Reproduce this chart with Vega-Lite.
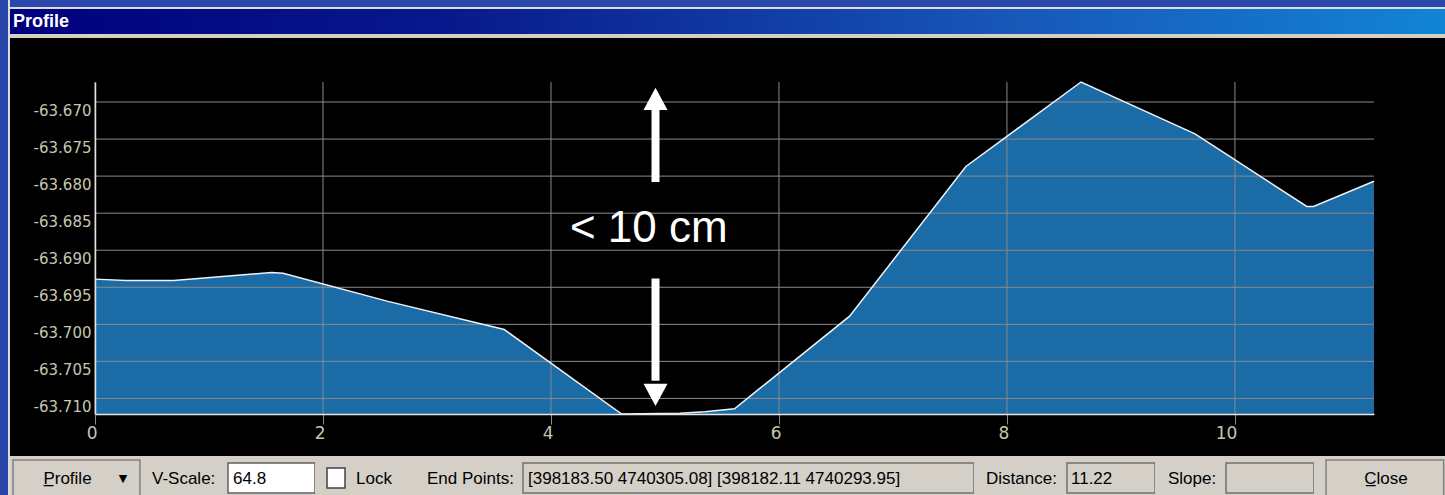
{
  "$schema": "https://vega.github.io/schema/vega-lite/v6.json",
  "padding": 0,
  "background": "#000000",
  "spacing": 0,
  "config": {
    "view": {"stroke": null},
    "text": {"font": "Liberation Sans", "fontSize": 17, "color": "#000000"},
    "locale": {"number": {"decimal": ".", "thousands": ",", "grouping": [3], "currency": ["$", ""], "minus": "-"}}
  },
  "datasets": {
    "profile": [
      {"d": 0, "z": -63.6939},
      {"d": 0.27, "z": -63.6941},
      {"d": 0.69, "z": -63.6941},
      {"d": 1.55, "z": -63.693},
      {"d": 1.65, "z": -63.6931},
      {"d": 2.57, "z": -63.6969},
      {"d": 3.59, "z": -63.7007},
      {"d": 4.62, "z": -63.7121},
      {"d": 5.13, "z": -63.712},
      {"d": 5.35, "z": -63.7118},
      {"d": 5.61, "z": -63.7114},
      {"d": 6.62, "z": -63.6989},
      {"d": 7.64, "z": -63.6787},
      {"d": 8.65, "z": -63.6673},
      {"d": 9.65, "z": -63.6743},
      {"d": 10.63, "z": -63.6841},
      {"d": 10.69, "z": -63.6841},
      {"d": 11.22, "z": -63.6807}
    ],
    "ygrid": [
      {"z": -63.67}, {"z": -63.675}, {"z": -63.68}, {"z": -63.685}, {"z": -63.69},
      {"z": -63.695}, {"z": -63.7}, {"z": -63.705}, {"z": -63.71}
    ],
    "xgrid": [{"d": 0}, {"d": 2}, {"d": 4}, {"d": 6}, {"d": 8}, {"d": 10}],
    "shafts": [
      {"d": 4.917, "z": -63.6808, "z2": -63.6708},
      {"d": 4.917, "z": -63.6938, "z2": -63.7076}
    ],
    "heads": [
      {"d": 4.917, "z": -63.66807, "dir": "up"},
      {"d": 4.917, "z": -63.71102, "dir": "down"}
    ],
    "note": [{"d": 4.858, "z": -63.6889, "label": "< 10 cm"}]
  },
  "hconcat": [
    {
      "width": 8, "height": 495, "data": {"values": [{}]},
      "mark": {"type": "rect", "color": "#2845a8", "strokeWidth": 0},
      "encoding": {
        "x": {"datum": 0, "type": "quantitative", "scale": {"domain": [0, 1]}, "axis": null},
        "x2": {"datum": 1},
        "y": {"datum": 0, "type": "quantitative", "scale": {"domain": [0, 1]}, "axis": null},
        "y2": {"datum": 1}
      }
    },
    {
      "width": 2, "height": 495, "data": {"values": [{}]},
      "mark": {"type": "rect", "color": "#dcdcdc", "strokeWidth": 0},
      "encoding": {
        "x": {"datum": 0, "type": "quantitative", "scale": {"domain": [0, 1]}, "axis": null},
        "x2": {"datum": 1},
        "y": {"datum": 0, "type": "quantitative", "scale": {"domain": [0, 1]}, "axis": null},
        "y2": {"datum": 1}
      }
    },
    {
      "spacing": 0,
      "vconcat": [
        {
          "width": 1435, "height": 7, "data": {"values": [{}]},
          "mark": {"type": "rect", "color": "#2a48ac", "strokeWidth": 0},
          "encoding": {
            "x": {"datum": 0, "type": "quantitative", "scale": {"domain": [0, 1]}, "axis": null},
            "x2": {"datum": 1},
            "y": {"datum": 0, "type": "quantitative", "scale": {"domain": [0, 1]}, "axis": null},
            "y2": {"datum": 1}
          }
        },
        {
          "width": 1435, "height": 2, "data": {"values": [{}]},
          "mark": {"type": "rect", "color": "#dcdcdc", "strokeWidth": 0},
          "encoding": {
            "x": {"datum": 0, "type": "quantitative", "scale": {"domain": [0, 1]}, "axis": null},
            "x2": {"datum": 1},
            "y": {"datum": 0, "type": "quantitative", "scale": {"domain": [0, 1]}, "axis": null},
            "y2": {"datum": 1}
          }
        },
        {
          "width": 1435, "height": 25,
          "data": {"values": [{"t": "Profile"}]},
          "layer": [
            {
              "mark": {"type": "rect", "strokeWidth": 0, "color": {"gradient": "linear", "x1": 0, "x2": 1, "y1": 0, "y2": 0, "stops": [
                {"offset": 0, "color": "#00007c"},
                {"offset": 0.3, "color": "#08188c"},
                {"offset": 0.7, "color": "#1858b8"},
                {"offset": 1, "color": "#1284d4"}
              ]}},
              "encoding": {
                "x": {"datum": 0, "type": "quantitative", "scale": {"domain": [0, 1]}, "axis": null},
                "x2": {"datum": 1},
                "y": {"datum": 0, "type": "quantitative", "scale": {"domain": [0, 1], "reverse": true}, "axis": null},
                "y2": {"datum": 1}
              }
            },
            {
              "mark": {"type": "text", "align": "left", "baseline": "alphabetic", "dx": 3, "font": "Liberation Sans", "fontSize": 18, "fontWeight": "bold", "color": "#ffffff"},
              "encoding": {
                "text": {"field": "t"},
                "x": {"datum": 0, "type": "quantitative", "scale": {"domain": [0, 1]}, "axis": null},
                "y": {"datum": 0.708, "type": "quantitative", "scale": {"domain": [0, 1], "reverse": true}, "axis": null}
              }
            }
          ]
        },
        {
          "width": 1435, "height": 4, "data": {"values": [{}]},
          "mark": {"type": "rect", "color": "#d4d0c8", "strokeWidth": 0},
          "encoding": {
            "x": {"datum": 0, "type": "quantitative", "scale": {"domain": [0, 1]}, "axis": null},
            "x2": {"datum": 1},
            "y": {"datum": 0, "type": "quantitative", "scale": {"domain": [0, 1]}, "axis": null},
            "y2": {"datum": 1}
          }
        },
        {
          "width": 1435, "height": 41, "data": {"values": [{}]},
          "mark": {"type": "rect", "color": "#000000", "strokeWidth": 0},
          "encoding": {
            "x": {"datum": 0, "type": "quantitative", "scale": {"domain": [0, 1]}, "axis": null},
            "x2": {"datum": 1},
            "y": {"datum": 0, "type": "quantitative", "scale": {"domain": [0, 1]}, "axis": null},
            "y2": {"datum": 1}
          }
        },
        {
          "spacing": 0,
          "bounds": "flush",
          "hconcat": [
            {
              "width": 85, "height": 332, "data": {"values": [{}]},
              "mark": {"type": "rect", "color": "#000000", "strokeWidth": 0},
              "encoding": {
                "x": {"datum": 0, "type": "quantitative", "scale": {"domain": [0, 1]}, "axis": null},
                "x2": {"datum": 1},
                "y": {"datum": 0, "type": "quantitative", "scale": {"domain": [0, 1]}, "axis": null},
                "y2": {"datum": 1}
              }
            },
            {
              "width": 1279, "height": 332,
              "view": {"fill": "#000000"},
              "layer": [
                {
                  "data": {"name": "profile"},
                  "mark": {"type": "area", "color": "#1a6ba6", "opacity": 1},
                  "encoding": {
                    "x": {"field": "d", "type": "quantitative", "scale": {"domain": [0, 11.22], "nice": false, "zero": false},
                      "axis": {"values": [0, 2, 4, 6, 8, 10], "format": "d", "grid": false, "ticks": true, "tickColor": "#8a8a8a", "tickSize": 10, "tickWidth": 1,
                        "domain": true, "domainColor": "#e6e6e6", "domainWidth": 1.5,
                        "labelColor": "#c4c8b0", "labelFont": "DejaVu Sans", "labelFontSize": 17, "labelAlign": "right", "labelBaseline": "top",
                        "labelPadding": 1, "labelOffset": 2, "labelFlush": false, "labelOverlap": false,
                        "title": null, "minExtent": 42, "maxExtent": 42, "zindex": 1}},
                    "y": {"field": "z", "type": "quantitative", "scale": {"domain": [-63.7121, -63.6673], "nice": false, "zero": false},
                      "axis": {"values": [-63.67, -63.675, -63.68, -63.685, -63.69, -63.695, -63.7, -63.705, -63.71], "format": ".3f",
                        "grid": false, "ticks": false, "domain": true, "domainColor": "#e0e0e0", "domainWidth": 1.5,
                        "labelColor": "#c4c8b0", "labelFont": "DejaVu Sans", "labelFontSize": 15, "labelBaseline": "top",
                        "labelPadding": 4, "labelOffset": 1, "labelFlush": false, "labelOverlap": false,
                        "title": null, "minExtent": 85, "maxExtent": 85, "zindex": 1}},
                    "y2": {"datum": -63.7121}
                  }
                },
                {
                  "data": {"name": "ygrid"},
                  "mark": {"type": "rule", "color": "#8a8a8a", "strokeWidth": 1},
                  "encoding": {"y": {"field": "z", "type": "quantitative"}}
                },
                {
                  "data": {"name": "xgrid"},
                  "mark": {"type": "rule", "color": "#8a8a8a", "strokeWidth": 1},
                  "encoding": {"x": {"field": "d", "type": "quantitative"}}
                },
                {
                  "data": {"name": "profile"},
                  "mark": {"type": "line", "color": "#eef3f8", "strokeWidth": 1.5},
                  "encoding": {
                    "x": {"field": "d", "type": "quantitative"},
                    "y": {"field": "z", "type": "quantitative"}
                  }
                },
                {
                  "data": {"name": "shafts"},
                  "mark": {"type": "rule", "color": "#ffffff", "strokeWidth": 8, "strokeCap": "butt"},
                  "encoding": {
                    "x": {"field": "d", "type": "quantitative"},
                    "y": {"field": "z", "type": "quantitative"},
                    "y2": {"field": "z2"}
                  }
                },
                {
                  "data": {"name": "heads"},
                  "mark": {"type": "point", "filled": true, "color": "#ffffff", "opacity": 1, "size": 576, "strokeWidth": 0},
                  "encoding": {
                    "x": {"field": "d", "type": "quantitative"},
                    "y": {"field": "z", "type": "quantitative"},
                    "shape": {"field": "dir", "type": "nominal", "scale": {"domain": ["up", "down"], "range": ["M0,0L1,1.85L-1,1.85Z", "M0,0L1,-1.85L-1,-1.85Z"]}, "legend": null}
                  }
                },
                {
                  "data": {"name": "note"},
                  "mark": {"type": "text", "font": "Liberation Sans", "fontSize": 44, "color": "#ffffff", "align": "center", "baseline": "alphabetic"},
                  "encoding": {
                    "x": {"field": "d", "type": "quantitative"},
                    "y": {"field": "z", "type": "quantitative"},
                    "text": {"field": "label"}
                  }
                }
              ]
            }
          ]
        },
        {
          "spacing": 0,
          "bounds": "flush",
          "hconcat": [
            {
              "width": 142, "height": 42, "view": {"fill": "#d4d0c8"},
              "data": {"values": [{"t": "P̲rofile", "a": "▼"}]},
              "layer": [
                {
                  "mark": {"type": "rect", "fill": "#d4d0c8", "stroke": "#808080", "strokeWidth": 1.5},
                  "encoding": {
                    "x": {"datum": 0.021, "type": "quantitative", "scale": {"domain": [0, 1]}, "axis": null},
                    "x2": {"datum": 0.915},
                    "y": {"datum": 0.095, "type": "quantitative", "scale": {"domain": [0, 1], "reverse": true}, "axis": null},
                    "y2": {"datum": 0.99}
                  }
                },
                {
                  "mark": {"type": "text", "align": "center", "baseline": "middle"},
                  "encoding": {
                    "text": {"field": "t"},
                    "x": {"datum": 0.405, "type": "quantitative", "scale": {"domain": [0, 1]}, "axis": null},
                    "y": {"datum": 0.55, "type": "quantitative", "scale": {"domain": [0, 1], "reverse": true}, "axis": null}
                  }
                },
                {
                  "mark": {"type": "text", "align": "center", "baseline": "middle", "font": "DejaVu Sans", "fontSize": 11},
                  "encoding": {
                    "text": {"field": "a"},
                    "x": {"datum": 0.796, "type": "quantitative", "scale": {"domain": [0, 1]}, "axis": null},
                    "y": {"datum": 0.55, "type": "quantitative", "scale": {"domain": [0, 1], "reverse": true}, "axis": null}
                  }
                }
              ]
            },
            {
              "width": 76, "height": 42, "view": {"fill": "#d4d0c8"},
              "data": {"values": [{"t": "V-Scale:"}]},
              "mark": {"type": "text", "align": "left", "baseline": "middle"},
              "encoding": {
                "text": {"field": "t"},
                "x": {"datum": 0, "type": "quantitative", "scale": {"domain": [0, 1]}, "axis": null},
                "y": {"datum": 0.55, "type": "quantitative", "scale": {"domain": [0, 1], "reverse": true}, "axis": null}
              }
            },
            {
              "width": 87, "height": 42, "view": {"fill": "#d4d0c8"},
              "data": {"values": [{"t": "64.8"}]},
              "layer": [
                {
                  "mark": {"type": "rect", "fill": "#ffffff", "stroke": "#606060", "strokeWidth": 1.5},
                  "encoding": {
                    "x": {"datum": 0, "type": "quantitative", "scale": {"domain": [0, 1]}, "axis": null},
                    "x2": {"datum": 1},
                    "y": {"datum": 0.167, "type": "quantitative", "scale": {"domain": [0, 1], "reverse": true}, "axis": null},
                    "y2": {"datum": 0.881}
                  }
                },
                {
                  "mark": {"type": "text", "align": "left", "baseline": "middle", "dx": 5},
                  "encoding": {
                    "text": {"field": "t"},
                    "x": {"datum": 0, "type": "quantitative", "scale": {"domain": [0, 1]}, "axis": null},
                    "y": {"datum": 0.55, "type": "quantitative", "scale": {"domain": [0, 1], "reverse": true}, "axis": null}
                  }
                }
              ]
            },
            {
              "width": 41, "height": 42, "view": {"fill": "#d4d0c8"},
              "data": {"values": [{}]},
              "mark": {"type": "rect", "fill": "#ffffff", "stroke": "#404040", "strokeWidth": 1.5},
              "encoding": {
                "x": {"datum": 0.293, "type": "quantitative", "scale": {"domain": [0, 1]}, "axis": null},
                "x2": {"datum": 0.732},
                "y": {"datum": 0.286, "type": "quantitative", "scale": {"domain": [0, 1], "reverse": true}, "axis": null},
                "y2": {"datum": 0.762}
              }
            },
            {
              "width": 71, "height": 42, "view": {"fill": "#d4d0c8"},
              "data": {"values": [{"t": "Lock"}]},
              "mark": {"type": "text", "align": "left", "baseline": "middle"},
              "encoding": {
                "text": {"field": "t"},
                "x": {"datum": 0, "type": "quantitative", "scale": {"domain": [0, 1]}, "axis": null},
                "y": {"datum": 0.55, "type": "quantitative", "scale": {"domain": [0, 1], "reverse": true}, "axis": null}
              }
            },
            {
              "width": 96, "height": 42, "view": {"fill": "#d4d0c8"},
              "data": {"values": [{"t": "End Points:"}]},
              "mark": {"type": "text", "align": "left", "baseline": "middle"},
              "encoding": {
                "text": {"field": "t"},
                "x": {"datum": 0, "type": "quantitative", "scale": {"domain": [0, 1]}, "axis": null},
                "y": {"datum": 0.55, "type": "quantitative", "scale": {"domain": [0, 1], "reverse": true}, "axis": null}
              }
            },
            {
              "width": 451, "height": 42, "view": {"fill": "#d4d0c8"},
              "data": {"values": [{"t": "[398183.50 4740305.08] [398182.11 4740293.95]"}]},
              "layer": [
                {
                  "mark": {"type": "rect", "fill": "#d4d0c8", "stroke": "#707070", "strokeWidth": 1.5},
                  "encoding": {
                    "x": {"datum": 0, "type": "quantitative", "scale": {"domain": [0, 1]}, "axis": null},
                    "x2": {"datum": 1},
                    "y": {"datum": 0.167, "type": "quantitative", "scale": {"domain": [0, 1], "reverse": true}, "axis": null},
                    "y2": {"datum": 0.881}
                  }
                },
                {
                  "mark": {"type": "text", "align": "left", "baseline": "middle", "dx": 5},
                  "encoding": {
                    "text": {"field": "t"},
                    "x": {"datum": 0, "type": "quantitative", "scale": {"domain": [0, 1]}, "axis": null},
                    "y": {"datum": 0.55, "type": "quantitative", "scale": {"domain": [0, 1], "reverse": true}, "axis": null}
                  }
                }
              ]
            },
            {
              "width": 93, "height": 42, "view": {"fill": "#d4d0c8"},
              "data": {"values": [{"t": "Distance:"}]},
              "mark": {"type": "text", "align": "left", "baseline": "middle", "dx": 12},
              "encoding": {
                "text": {"field": "t"},
                "x": {"datum": 0, "type": "quantitative", "scale": {"domain": [0, 1]}, "axis": null},
                "y": {"datum": 0.55, "type": "quantitative", "scale": {"domain": [0, 1], "reverse": true}, "axis": null}
              }
            },
            {
              "width": 88, "height": 42, "view": {"fill": "#d4d0c8"},
              "data": {"values": [{"t": "11.22"}]},
              "layer": [
                {
                  "mark": {"type": "rect", "fill": "#d4d0c8", "stroke": "#707070", "strokeWidth": 1.5},
                  "encoding": {
                    "x": {"datum": 0, "type": "quantitative", "scale": {"domain": [0, 1]}, "axis": null},
                    "x2": {"datum": 1},
                    "y": {"datum": 0.167, "type": "quantitative", "scale": {"domain": [0, 1], "reverse": true}, "axis": null},
                    "y2": {"datum": 0.881}
                  }
                },
                {
                  "mark": {"type": "text", "align": "left", "baseline": "middle", "dx": 4},
                  "encoding": {
                    "text": {"field": "t"},
                    "x": {"datum": 0, "type": "quantitative", "scale": {"domain": [0, 1]}, "axis": null},
                    "y": {"datum": 0.55, "type": "quantitative", "scale": {"domain": [0, 1], "reverse": true}, "axis": null}
                  }
                }
              ]
            },
            {
              "width": 71, "height": 42, "view": {"fill": "#d4d0c8"},
              "data": {"values": [{"t": "Slope:"}]},
              "mark": {"type": "text", "align": "left", "baseline": "middle", "dx": 13},
              "encoding": {
                "text": {"field": "t"},
                "x": {"datum": 0, "type": "quantitative", "scale": {"domain": [0, 1]}, "axis": null},
                "y": {"datum": 0.55, "type": "quantitative", "scale": {"domain": [0, 1], "reverse": true}, "axis": null}
              }
            },
            {
              "width": 88, "height": 42, "view": {"fill": "#d4d0c8"},
              "data": {"values": [{}]},
              "mark": {"type": "rect", "fill": "#d4d0c8", "stroke": "#707070", "strokeWidth": 1.5},
              "encoding": {
                "x": {"datum": 0, "type": "quantitative", "scale": {"domain": [0, 1]}, "axis": null},
                "x2": {"datum": 1},
                "y": {"datum": 0.167, "type": "quantitative", "scale": {"domain": [0, 1], "reverse": true}, "axis": null},
                "y2": {"datum": 0.881}
              }
            },
            {
              "width": 131, "height": 42, "view": {"fill": "#d4d0c8"},
              "data": {"values": [{"t": "C̲lose"}]},
              "layer": [
                {
                  "mark": {"type": "rect", "fill": "#d4d0c8", "stroke": "#808080", "strokeWidth": 1.5},
                  "encoding": {
                    "x": {"datum": 0.092, "type": "quantitative", "scale": {"domain": [0, 1]}, "axis": null},
                    "x2": {"datum": 0.99},
                    "y": {"datum": 0.095, "type": "quantitative", "scale": {"domain": [0, 1], "reverse": true}, "axis": null},
                    "y2": {"datum": 0.99}
                  }
                },
                {
                  "mark": {"type": "text", "align": "center", "baseline": "middle"},
                  "encoding": {
                    "text": {"field": "t"},
                    "x": {"datum": 0.55, "type": "quantitative", "scale": {"domain": [0, 1]}, "axis": null},
                    "y": {"datum": 0.55, "type": "quantitative", "scale": {"domain": [0, 1], "reverse": true}, "axis": null}
                  }
                }
              ]
            }
          ]
        }
      ]
    }
  ]
}
